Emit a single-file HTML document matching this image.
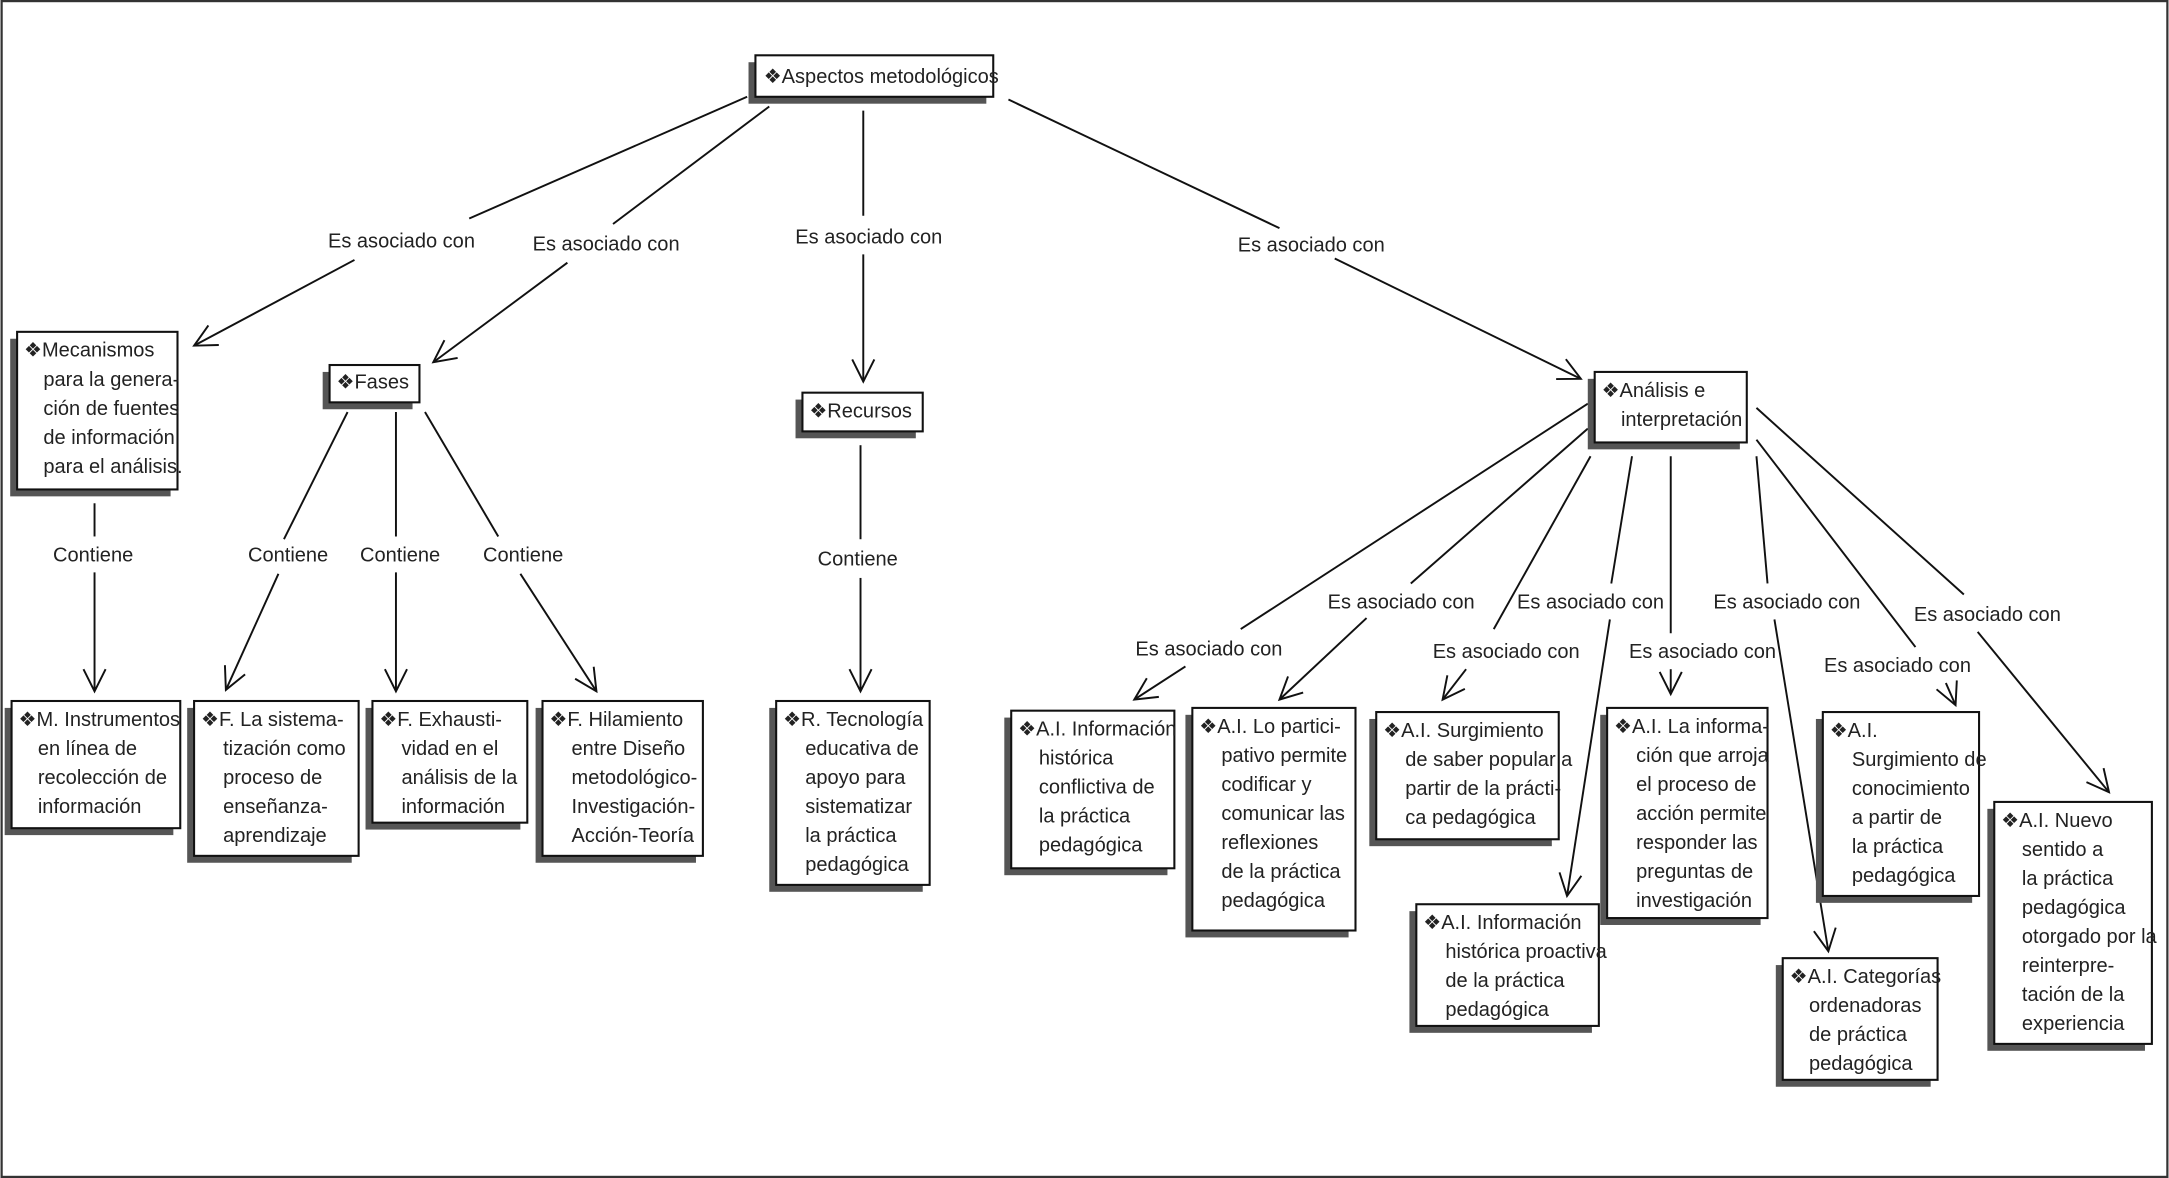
<!DOCTYPE html>
<html><head><meta charset="utf-8"><style>
html,body{margin:0;padding:0;background:#fff;}
svg{display:block;}
text{font-family:"Liberation Sans Narrow","Liberation Sans",sans-serif;font-size:14.5px;fill:#222;}
</style></head><body>
<svg width="2169" height="1178" viewBox="0 0 1568 852" xmlns="http://www.w3.org/2000/svg">
<defs>
<marker id="a" markerWidth="22" markerHeight="22" refX="18" refY="11" orient="auto" markerUnits="userSpaceOnUse">
<polyline points="2,3 18,11 2,19" fill="none" stroke="#111" stroke-width="1.4"/>
</marker>
</defs>
<rect x="0.8" y="0.8" width="1566.4" height="850.4" fill="#fff" stroke="#333" stroke-width="1.6"/>

<g stroke="#111" stroke-width="1.4" fill="none">
<!-- Aspectos -> children -->
<line x1="540" y1="70" x2="339" y2="158"/><line x1="256" y1="188" x2="140" y2="250" marker-end="url(#a)"/>
<line x1="556" y1="77" x2="443" y2="162"/><line x1="410" y1="190" x2="313" y2="262" marker-end="url(#a)"/>
<line x1="624" y1="80" x2="624" y2="156"/><line x1="624" y1="184" x2="624" y2="276" marker-end="url(#a)"/>
<line x1="729" y1="72" x2="925" y2="165"/><line x1="965" y1="187" x2="1143" y2="274" marker-end="url(#a)"/>
<!-- Mecanismos -->
<line x1="68" y1="364" x2="68" y2="388"/><line x1="68" y1="414" x2="68" y2="500" marker-end="url(#a)"/>
<!-- Fases -->
<line x1="251" y1="298" x2="205" y2="390"/><line x1="201" y1="415" x2="163" y2="499" marker-end="url(#a)"/>
<line x1="286" y1="298" x2="286" y2="388"/><line x1="286" y1="414" x2="286" y2="500" marker-end="url(#a)"/>
<line x1="307" y1="298" x2="360" y2="388"/><line x1="376" y1="415" x2="431" y2="500" marker-end="url(#a)"/>
<!-- Recursos -->
<line x1="622" y1="322" x2="622" y2="390"/><line x1="622" y1="418" x2="622" y2="500" marker-end="url(#a)"/>
<!-- Analisis -->
<line x1="1148" y1="292" x2="897" y2="455"/><line x1="857" y1="482" x2="820" y2="506" marker-end="url(#a)"/>
<line x1="1148" y1="310" x2="1020" y2="422"/><line x1="988" y1="447" x2="925" y2="506" marker-end="url(#a)"/>
<line x1="1150" y1="330" x2="1080" y2="455"/><line x1="1060" y1="484" x2="1043" y2="506" marker-end="url(#a)"/>
<line x1="1180" y1="330" x2="1165" y2="422"/><line x1="1164" y1="448" x2="1133" y2="648" marker-end="url(#a)"/>
<line x1="1208" y1="330" x2="1208" y2="458"/><line x1="1208" y1="484" x2="1208" y2="502" marker-end="url(#a)"/>
<line x1="1270" y1="330" x2="1278" y2="422"/><line x1="1283" y1="448" x2="1322" y2="688" marker-end="url(#a)"/>
<line x1="1270" y1="318" x2="1385" y2="468"/><line x1="1407" y1="494" x2="1414" y2="510" marker-end="url(#a)"/>
<line x1="1270" y1="295" x2="1420" y2="430"/><line x1="1430" y1="457" x2="1525" y2="573" marker-end="url(#a)"/>
</g>

<g text-anchor="middle">
<text x="290" y="179">Es asociado con</text>
<text x="438" y="181">Es asociado con</text>
<text x="628" y="176">Es asociado con</text>
<text x="948" y="182">Es asociado con</text>
<text x="67" y="406">Contiene</text>
<text x="208" y="406">Contiene</text>
<text x="289" y="406">Contiene</text>
<text x="378" y="406">Contiene</text>
<text x="620" y="409">Contiene</text>
<text x="874" y="474">Es asociado con</text>
<text x="1013" y="440">Es asociado con</text>
<text x="1089" y="476">Es asociado con</text>
<text x="1150" y="440">Es asociado con</text>
<text x="1231" y="476">Es asociado con</text>
<text x="1292" y="440">Es asociado con</text>
<text x="1372" y="486">Es asociado con</text>
<text x="1437" y="449">Es asociado con</text>
</g>

<!-- Boxes: shadow then box -->
<g fill="#555">
<rect x="541" y="45" width="172" height="30"/>
<rect x="7" y="245" width="116" height="114"/>
<rect x="233" y="269" width="65" height="27"/>
<rect x="575" y="289" width="87" height="28"/>
<rect x="1148" y="274" width="110" height="51"/>
<rect x="3" y="512" width="122" height="92"/>
<rect x="135" y="512" width="119" height="112"/>
<rect x="264" y="512" width="112" height="88"/>
<rect x="387" y="512" width="116" height="112"/>
<rect x="556" y="512" width="111" height="133"/>
<rect x="726" y="519" width="118" height="114"/>
<rect x="857" y="517" width="118" height="161"/>
<rect x="990" y="520" width="132" height="92"/>
<rect x="1157" y="517" width="116" height="152"/>
<rect x="1019" y="659" width="132" height="88"/>
<rect x="1313" y="520" width="113" height="133"/>
<rect x="1284" y="698" width="112" height="88"/>
<rect x="1437" y="585" width="114" height="175"/>
</g>
<g fill="#fff" stroke="#111" stroke-width="1.5">
<rect x="546" y="40" width="172" height="30"/>
<rect x="12" y="240" width="116" height="114"/>
<rect x="238" y="264" width="65" height="27"/>
<rect x="580" y="284" width="87" height="28"/>
<rect x="1153" y="269" width="110" height="51"/>
<rect x="8" y="507" width="122" height="92"/>
<rect x="140" y="507" width="119" height="112"/>
<rect x="269" y="507" width="112" height="88"/>
<rect x="392" y="507" width="116" height="112"/>
<rect x="561" y="507" width="111" height="133"/>
<rect x="731" y="514" width="118" height="114"/>
<rect x="862" y="512" width="118" height="161"/>
<rect x="995" y="515" width="132" height="92"/>
<rect x="1162" y="512" width="116" height="152"/>
<rect x="1024" y="654" width="132" height="88"/>
<rect x="1318" y="515" width="113" height="133"/>
<rect x="1289" y="693" width="112" height="88"/>
<rect x="1442" y="580" width="114" height="175"/>
</g>

<text x="552" y="60">❖Aspectos metodológicos</text>
<text x="17" y="258">❖Mecanismos</text>
<text x="31" y="279">para la genera-</text>
<text x="31" y="300">ción de fuentes</text>
<text x="31" y="321">de información</text>
<text x="31" y="342">para el análisis.</text>
<text x="243" y="281">❖Fases</text>
<text x="585" y="302">❖Recursos</text>
<text x="1158" y="287">❖Análisis e</text>
<text x="1172" y="308">interpretación</text>

<text x="13" y="525">❖M. Instrumentos</text>
<text x="27" y="546">en línea de</text>
<text x="27" y="567">recolección de</text>
<text x="27" y="588">información</text>

<text x="145" y="525">❖F. La sistema-</text>
<text x="161" y="546">tización como</text>
<text x="161" y="567">proceso de</text>
<text x="161" y="588">enseñanza-</text>
<text x="161" y="609">aprendizaje</text>

<text x="274" y="525">❖F. Exhausti-</text>
<text x="290" y="546">vidad en el</text>
<text x="290" y="567">análisis de la</text>
<text x="290" y="588">información</text>

<text x="397" y="525">❖F. Hilamiento</text>
<text x="413" y="546">entre Diseño</text>
<text x="413" y="567">metodológico-</text>
<text x="413" y="588">Investigación-</text>
<text x="413" y="609">Acción-Teoría</text>

<text x="566" y="525">❖R. Tecnología</text>
<text x="582" y="546">educativa de</text>
<text x="582" y="567">apoyo para</text>
<text x="582" y="588">sistematizar</text>
<text x="582" y="609">la práctica</text>
<text x="582" y="630">pedagógica</text>

<text x="736" y="532">❖A.I. Información</text>
<text x="751" y="553">histórica</text>
<text x="751" y="574">conflictiva de</text>
<text x="751" y="595">la práctica</text>
<text x="751" y="616">pedagógica</text>

<text x="867" y="530">❖A.I. Lo partici-</text>
<text x="883" y="551">pativo permite</text>
<text x="883" y="572">codificar y</text>
<text x="883" y="593">comunicar las</text>
<text x="883" y="614">reflexiones</text>
<text x="883" y="635">de la práctica</text>
<text x="883" y="656">pedagógica</text>

<text x="1000" y="533">❖A.I. Surgimiento</text>
<text x="1016" y="554">de saber popular a</text>
<text x="1016" y="575">partir de la prácti-</text>
<text x="1016" y="596">ca pedagógica</text>

<text x="1167" y="530">❖A.I. La informa-</text>
<text x="1183" y="551">ción que arroja</text>
<text x="1183" y="572">el proceso de</text>
<text x="1183" y="593">acción permite</text>
<text x="1183" y="614">responder las</text>
<text x="1183" y="635">preguntas de</text>
<text x="1183" y="656">investigación</text>

<text x="1029" y="672">❖A.I. Información</text>
<text x="1045" y="693">histórica proactiva</text>
<text x="1045" y="714">de la práctica</text>
<text x="1045" y="735">pedagógica</text>

<text x="1323" y="533">❖A.I.</text>
<text x="1339" y="554">Surgimiento de</text>
<text x="1339" y="575">conocimiento</text>
<text x="1339" y="596">a partir de</text>
<text x="1339" y="617">la práctica</text>
<text x="1339" y="638">pedagógica</text>

<text x="1294" y="711">❖A.I. Categorías</text>
<text x="1308" y="732">ordenadoras</text>
<text x="1308" y="753">de práctica</text>
<text x="1308" y="774">pedagógica</text>

<text x="1447" y="598">❖A.I. Nuevo</text>
<text x="1462" y="619">sentido a</text>
<text x="1462" y="640">la práctica</text>
<text x="1462" y="661">pedagógica</text>
<text x="1462" y="682">otorgado por la</text>
<text x="1462" y="703">reinterpre-</text>
<text x="1462" y="724">tación de la</text>
<text x="1462" y="745">experiencia</text>
</svg>
</body></html>
